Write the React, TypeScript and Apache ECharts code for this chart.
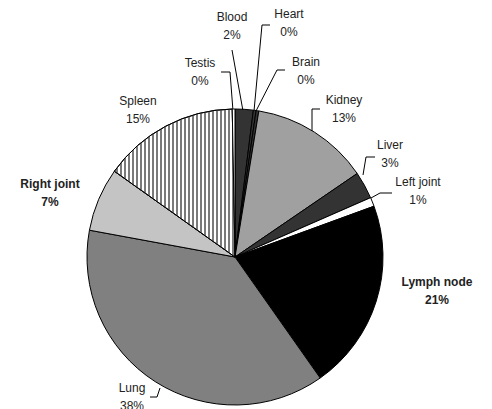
import React, { useEffect, useRef } from "react";
import * as echarts from "echarts";

const categories = ["Blood", "Heart", "Brain", "Kidney", "Liver", "Left joint", "Lymph node", "Lung", "Right joint", "Spleen", "Testis"];
const values = [2, 0.3, 0.3, 13, 3, 1, 21, 38, 7, 15, 0.3];
const colors = ["#333333", "#333333", "#333333", "#a0a0a0", "#333333", "#ffffff", "#000000", "#808080", "#c4c4c4", "#ffffff", "#ffffff"];
const boldLabels = ["Lymph node", "Right joint"];

// label centres and leader lines (annotation layout)
const labelPos: number[][] = [
  [232, 26], [289, 23], [306, 71], [344, 109], [390, 154], [418, 191],
  [437, 291], [132, 397], [50, 193], [138, 110], [200, 72],
];
const leaders: (number[][] | null)[] = [
  [[243, 111], [232, 50], [232, 50]],
  [[254, 111], [262, 25], [270, 25]],
  [[256, 111], [277, 70], [285, 70]],
  [[312, 131], [312, 109], [320, 109]],
  [[363, 175], [366, 157], [375, 157]],
  [[371, 198], [380, 193], [392, 193]],
  null,
  [[160, 388], [157, 397], [150, 397]],
  null,
  null,
  [[233, 111], [230, 72], [221, 72]],
];

export default function App() {
  const ref = useRef<HTMLDivElement>(null);
  useEffect(() => {
    if (!ref.current) return;
    const chart = echarts.init(ref.current, null, { renderer: "svg" });
    const data = categories.map((name, i) => {
      const item: any = {
        name,
        value: values[i],
        itemStyle: { color: colors[i] },
        label: { fontWeight: boldLabels.includes(name) ? "bold" : "normal" },
        labelLine: { show: leaders[i] !== null },
      };
      if (name === "Spleen") {
        item.itemStyle.decal = {
          symbol: "rect",
          color: "#7a7a7a",
          symbolSize: 1,
          dashArrayX: [2, 2],
          dashArrayY: [4, 0],
          rotation: 0,
        };
      }
      return item;
    });
    chart.setOption({
      animation: false,
      aria: { enabled: false, decal: { show: false } },
      series: [
        {
          type: "pie",
          center: [235, 257],
          radius: 148,
          startAngle: 90,
          clockwise: true,
          avoidLabelOverlap: false,
          data,
          itemStyle: { borderColor: "#000", borderWidth: 1 },
          label: {
            show: true,
            position: "outside",
            formatter: (p: any) => `${p.name}\n${Math.round(p.value)}%`,
            fontFamily: "Liberation Sans, Arial, sans-serif",
            fontSize: 12,
            lineHeight: 18,
            color: "#222",
            align: "center",
          },
          labelLine: { lineStyle: { color: "#000", width: 1 }, smooth: false },
          labelLayout: (params: any) => {
            const i = params.dataIndex;
            const res: any = {
              x: labelPos[i][0],
              y: labelPos[i][1],
              align: "center",
              verticalAlign: "middle",
            };
            if (leaders[i]) res.labelLinePoints = leaders[i];
            return res;
          },
        },
      ],
    });
    return () => chart.dispose();
  }, []);
  return (
    <div
      ref={ref}
      style={{ position: "absolute", left: 0, top: 0, width: 492, height: 409, background: "#fff" }}
    />
  );
}
